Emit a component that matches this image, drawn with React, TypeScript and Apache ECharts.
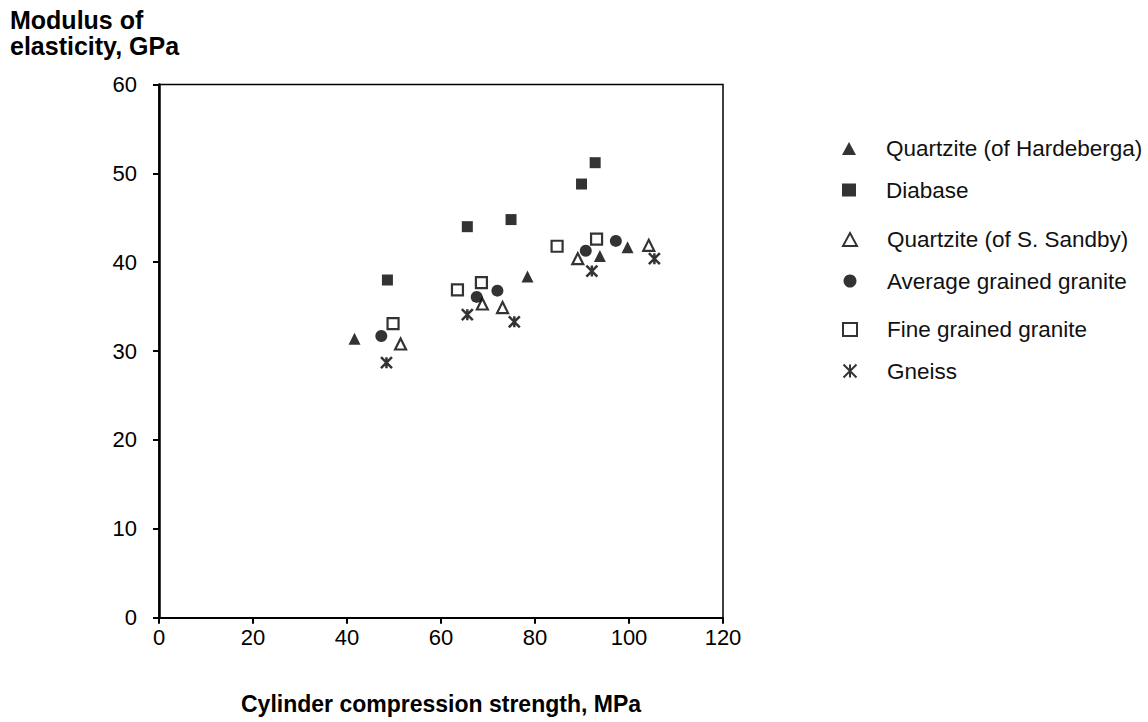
import React, { useEffect, useRef } from "react";
import * as echarts from "echarts";

const seriesNames = [
  "Quartzite (of Hardeberga)",
  "Diabase",
  "Quartzite (of S. Sandby)",
  "Average grained granite",
  "Fine grained granite",
  "Gneiss",
];

const quartziteHardeberga: [number, number][] = [
  [41.6, 31.4],
  [78.4, 38.4],
  [93.8, 40.7],
  [99.7, 41.7],
];
const diabase: [number, number][] = [
  [48.6, 38.0],
  [65.6, 44.0],
  [74.9, 44.8],
  [89.9, 48.8],
  [92.8, 51.2],
];
const quartziteSandby: [number, number][] = [
  [51.4, 30.8],
  [68.8, 35.3],
  [73.1, 34.9],
  [89.1, 40.4],
  [104.2, 41.9],
];
const avgGranite: [number, number][] = [
  [47.3, 31.7],
  [67.6, 36.1],
  [72.0, 36.8],
  [90.8, 41.3],
  [97.2, 42.4],
];
const fineGranite: [number, number][] = [
  [49.8, 33.1],
  [63.5, 36.9],
  [68.6, 37.7],
  [84.7, 41.8],
  [93.1, 42.6],
];
const gneiss: [number, number][] = [
  [48.4, 28.7],
  [65.6, 34.1],
  [75.6, 33.3],
  [92.1, 39.0],
  [105.4, 40.4],
];

const xTitle = "Cylinder compression strength, MPa";
const yTitle = "Modulus of\nelasticity, GPa";

const FONT = "'Liberation Sans', Arial, Helvetica, sans-serif";
const ASTERISK = "path://M0,0L10,10M10,0L0,10M5,0L5,10";

export default function App() {
  const ref = useRef<HTMLDivElement>(null);
  useEffect(() => {
    if (!ref.current) return;
    const chart = echarts.init(ref.current, undefined, { renderer: "svg" });
    const filled = (name: string, data: [number, number][], symbol: string, size: number) => ({
      name,
      type: "scatter",
      data,
      symbol,
      symbolSize: size,
      itemStyle: { color: "#000" },
    });
    const empty = (name: string, data: [number, number][], symbol: string, size: number) => ({
      name,
      type: "scatter",
      data,
      symbol,
      symbolSize: size,
      itemStyle: { color: "#fff", borderColor: "#000", borderWidth: 2.2 },
    });
    const legendBlock = (names: string[], top: number) => ({
      orient: "vertical",
      left: 842,
      top,
      padding: 0,
      itemWidth: 14,
      itemHeight: 13,
      itemGap: 18.5,
      textStyle: {
        fontFamily: FONT,
        fontSize: 22.5,
        color: "#111",
        lineHeight: 22,
        padding: [0, 0, 0, 25],
      },
      data: names,
    });
    chart.setOption({
      animation: false,
      backgroundColor: "#fff",
      textStyle: { fontFamily: FONT },
      grid: {
        left: 159,
        right: 425,
        top: 84.5,
        bottom: 104.3,
        show: true,
        borderColor: "#000",
        borderWidth: 1.5,
        backgroundColor: "transparent",
      },
      xAxis: {
        type: "value",
        min: 0,
        max: 120,
        interval: 20,
        name: xTitle,
        nameLocation: "middle",
        nameGap: 75,
        nameTextStyle: { fontFamily: FONT, fontSize: 23, fontWeight: "bold", color: "#000" },
        axisLine: { show: true, lineStyle: { color: "#000", width: 2 } },
        axisTick: { show: true, length: 6, lineStyle: { color: "#000", width: 2 } },
        axisLabel: { fontFamily: FONT, fontSize: 22, color: "#000", margin: 9 },
        splitLine: { show: false },
      },
      yAxis: {
        type: "value",
        min: 0,
        max: 60,
        interval: 10,
        axisLine: { show: true, lineStyle: { color: "#000", width: 2.5 } },
        axisTick: { show: true, length: 6, lineStyle: { color: "#000", width: 2 } },
        axisLabel: { fontFamily: FONT, fontSize: 22, color: "#000", margin: 22 },
        splitLine: { show: false },
      },
      legend: [
        legendBlock(seriesNames.slice(0, 2), 137),
        legendBlock(seriesNames.slice(2, 4), 228),
        legendBlock(seriesNames.slice(4, 6), 318),
      ],
      graphic: [
        {
          type: "text",
          left: 10,
          top: 7,
          style: {
            text: yTitle,
            font: `bold 25px ${FONT}`,
            fill: "#000",
            lineHeight: 26,
          },
        },
      ],
      series: [
        filled(seriesNames[0], quartziteHardeberga, "triangle", 12),
        filled(seriesNames[1], diabase, "rect", 11),
        empty(seriesNames[2], quartziteSandby, "triangle", 11),
        filled(seriesNames[3], avgGranite, "circle", 12),
        empty(seriesNames[4], fineGranite, "rect", 11),
        {
          name: seriesNames[5],
          type: "scatter",
          data: gneiss,
          symbol: ASTERISK,
          symbolSize: 11,
          itemStyle: { color: "#000", borderColor: "#000", borderWidth: 2.5 },
        },
      ],
    });
    return () => chart.dispose();
  }, []);
  return (
    <div
      ref={ref}
      style={{ position: "fixed", left: 0, top: 0, width: 1148, height: 722, background: "#fff" }}
    />
  );
}
